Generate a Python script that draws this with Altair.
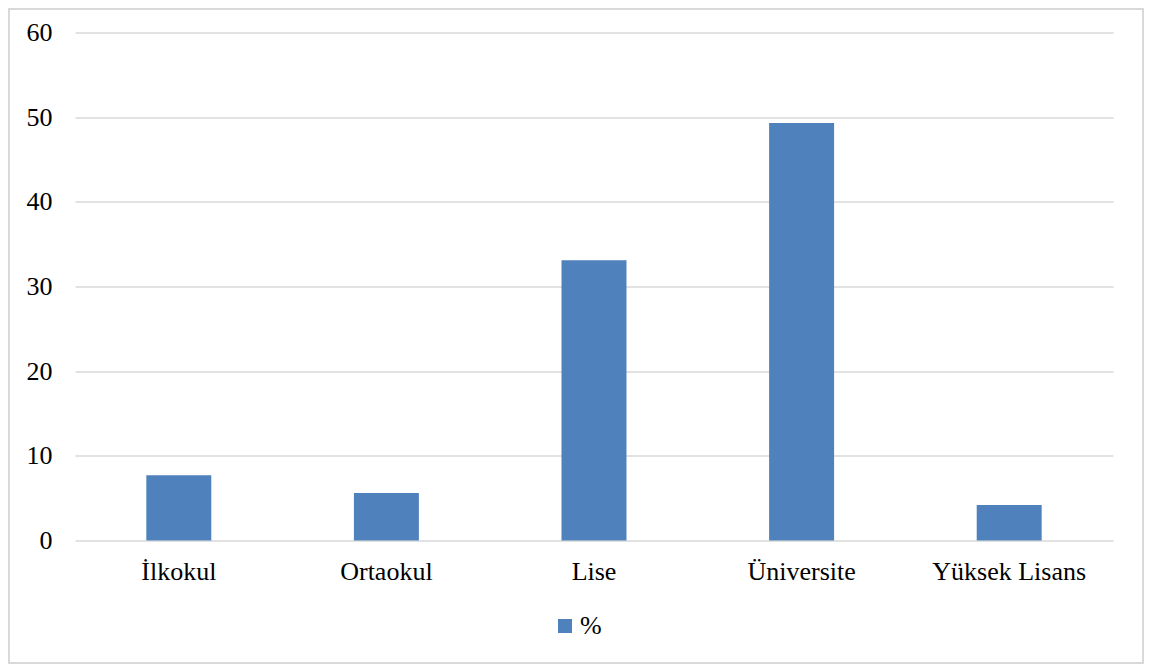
import altair as alt
import pandas as pd

categories = ["İlkokul", "Ortaokul", "Lise", "Üniversite", "Yüksek Lisans"]
values = [7.7, 5.6, 33.1, 49.3, 4.2]
series = ["%"] * len(categories)
y_ticks = [0, 10, 20, 30, 40, 50, 60]

df = pd.DataFrame({"kategori": categories, "deger": values, "seri": series})

W, H = 1038, 508
FONT = "Liberation Serif"

bars = alt.Chart(df).mark_bar(color="#4f81bd").encode(
    x=alt.X("kategori:N", sort=categories,
            scale=alt.Scale(paddingInner=0.687, paddingOuter=0.3435),
            axis=alt.Axis(title=None, labelAngle=0, domain=False, ticks=False,
                          labelPadding=18, labelFontSize=26, labelFont=FONT,
                          labelColor="#000000", grid=False)),
    y=alt.Y("deger:Q", scale=alt.Scale(domain=[0, 60], nice=False),
            axis=alt.Axis(title=None, values=y_ticks, domain=False, ticks=False,
                          labelPadding=23, labelFontSize=26, labelFont=FONT,
                          labelColor="#000000", grid=True, gridColor="#d9d9d9",
                          gridWidth=1.5)),
    color=alt.Color("seri:N", scale=alt.Scale(range=["#4f81bd"]),
                    legend=alt.Legend(title=None, orient="none", legendX=477,
                                      legendY=580.5, symbolType="square",
                                      symbolSize=196, symbolStrokeWidth=0,
                                      labelFontSize=26, labelFont=FONT,
                                      labelColor="#000000", labelOffset=2)),
)

frame = alt.Chart(pd.DataFrame({"a": [0]})).mark_rect(
    fill=None, stroke="#d9d9d9", strokeWidth=2, clip=False
).encode(
    x=alt.value(-66), x2=alt.value(1068),
    y=alt.value(-23.5), y2=alt.value(630.5),
)

chart = alt.layer(frame, bars).properties(
    width=W, height=H,
    autosize=alt.AutoSizeParams(type="none"),
    padding={"left": 67, "top": 24.5, "right": 33, "bottom": 125},
    background="#ffffff",
).configure_view(stroke=None)

chart.save("out.html", embed_options={"renderer": "svg", "actions": False})
